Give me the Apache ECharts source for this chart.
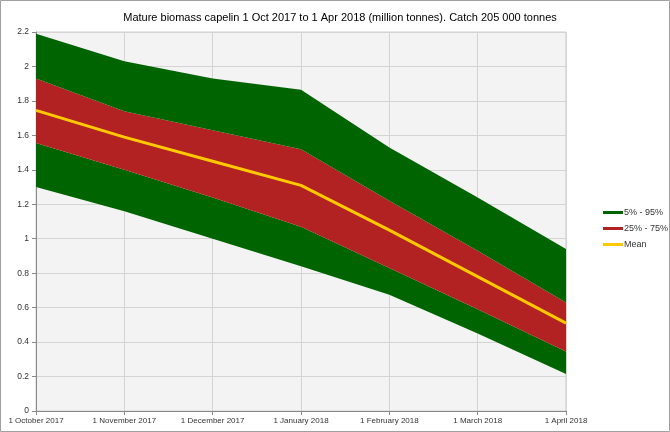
<!DOCTYPE html>
<html><head><meta charset="utf-8">
<script src="https://cdn.jsdelivr.net/npm/echarts@6/dist/echarts.min.js"></script>
<style>html,body{margin:0;padding:0;background:#fff}#c{width:670px;height:432px}</style>
</head><body><div id="c"></div>
<script>
const months = ['1 October 2017','1 November 2017','1 December 2017','1 January 2018','1 February 2018','1 March 2018','1 April 2018'];
const p95 = [2.19, 2.03, 1.93, 1.865, 1.53, 1.24, 0.94];
const p75 = [1.93, 1.74, 1.63, 1.52, 1.22, 0.93, 0.63];
const meanVals = [1.745, 1.59, 1.45, 1.31, 1.05, 0.78, 0.51];
const p25 = [1.555, 1.40, 1.24, 1.07, 0.83, 0.59, 0.345];
const p05 = [1.30, 1.16, 1.00, 0.84, 0.675, 0.45, 0.215];

const GREEN = '#006400', RED = '#b22222', GOLD = '#ffc800';
const diff = (a, b) => a.map((v, i) => +(v - b[i]).toFixed(4));
const font = 'Liberation Sans';

const chart = echarts.init(document.getElementById('c'));
const bandSeries = (name, data, color, opacity) => ({
  name, type: 'line', stack: 'band', data, symbol: 'none', smooth: false,
  lineStyle: { width: 0, opacity: 0 }, itemStyle: { color },
  areaStyle: { color, opacity }, emphasis: { disabled: true }, silent: true, z: 2
});
chart.setOption({
  animation: false,
  textStyle: { fontFamily: font },
  title: {
    text: 'Mature biomass capelin 1 Oct 2017 to 1 Apr 2018 (million tonnes). Catch 205 000 tonnes',
    left: 335, textAlign: 'center', top: 7,
    textStyle: { fontFamily: font, fontSize: 11, fontWeight: 'normal', color: '#000' }
  },
  legend: {
    orient: 'vertical', left: 598, top: 203, itemGap: 7,
    itemWidth: 20, itemHeight: 3, icon: 'rect',
    textStyle: { fontFamily: font, fontSize: 9, color: '#333', padding: [0, 0, 0, -4] },
    data: [
      { name: '5% - 95%', itemStyle: { color: GREEN } },
      { name: '25% - 75%', itemStyle: { color: RED } },
      { name: 'Mean', itemStyle: { color: GOLD } }
    ]
  },
  graphic: [{ type: 'rect', shape: { x: 0.5, y: 0.5, width: 669, height: 431 },
    style: { fill: 'none', stroke: '#a0a0a0', lineWidth: 1 }, silent: true }],
  grid: { left: 36, right: 104, top: 32, bottom: 21, show: true,
    backgroundColor: '#f3f3f3', borderColor: '#cfcfcf', borderWidth: 1 },
  xAxis: {
    type: 'category', data: months, boundaryGap: false,
    axisLine: { lineStyle: { color: '#8a8a8a' } },
    axisTick: { show: true, length: 4, lineStyle: { color: '#8a8a8a' } },
    axisLabel: { fontFamily: font, fontSize: 8, color: '#333', margin: 6, interval: 0 },
    splitLine: { show: true, lineStyle: { color: '#d4d4d4' } }
  },
  yAxis: {
    type: 'value', min: 0, max: 2.2, interval: 0.2,
    axisLine: { show: true, lineStyle: { color: '#8a8a8a' } },
    axisTick: { show: true, length: 4, lineStyle: { color: '#8a8a8a' } },
    axisLabel: { fontFamily: font, fontSize: 8.5, color: '#333', margin: 7,
      formatter: v => String(+v.toFixed(1)) },
    splitLine: { show: true, lineStyle: { color: '#d4d4d4' } }
  },
  series: [
    bandSeries('base', p05, '#000', 0),
    bandSeries('5% - 95%', diff(p25, p05), GREEN, 1),
    bandSeries('25% - 75%', diff(p75, p25), RED, 1),
    bandSeries('5% - 95%', diff(p95, p75), GREEN, 1),
    { name: 'Mean', type: 'line', data: meanVals, symbol: 'none', smooth: false,
      lineStyle: { width: 3, color: GOLD }, itemStyle: { color: GOLD }, z: 5, silent: true }
  ]
});
</script></body></html>
